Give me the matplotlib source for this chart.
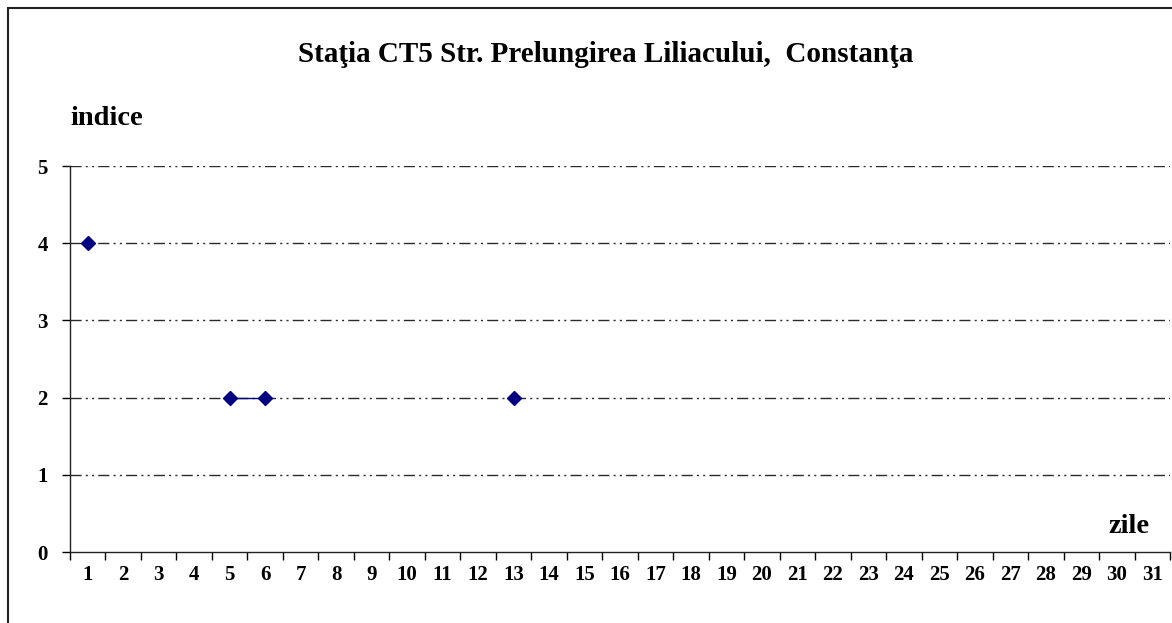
import numpy as np
import matplotlib.pyplot as plt
from matplotlib.patches import Rectangle

plt.rcParams['font.family'] = ['Liberation Serif', 'DejaVu Serif']
plt.rcParams['font.weight'] = 'bold'

zile = list(range(1, 32))
indice = [4, None, None, None, 2, 2, None, None, None, None, None, None, 2,
          None, None, None, None, None, None, None, None, None, None, None,
          None, None, None, None, None, None, None]
titlu = 'Staţia CT5 Str. Prelungirea Liliacului,  Constanţa'

y = np.array([np.nan if v is None else v for v in indice], dtype=float)

fig = plt.figure(figsize=(11.72, 6.23), dpi=100)
fig.patches.append(Rectangle((8 / 1172, -0.1), 1.2, 1.1 - 8 / 623,
                             transform=fig.transFigure, fill=False,
                             edgecolor='#222222', linewidth=1.5))
ax = fig.add_axes([70 / 1172, 1 - 552 / 623, 1100 / 1172, (552 - 166) / 623])

ax.plot(zile, y, color='#000080', linewidth=1, marker='D', markersize=7,
        markerfacecolor='#000080', markeredgecolor='#000080', zorder=3)

ax.set_xlim(0.5, 31.5)
ax.set_ylim(0, 5)
ax.set_xticks(zile)
ax.set_xticklabels([str(d) for d in zile])
ax.set_xticks(np.arange(0.5, 32, 1), minor=True)
ax.tick_params(axis='x', which='major', length=0, pad=9, labelsize=15)
ax.tick_params(axis='x', which='minor', length=6, width=1, direction='out')
ax.set_yticks(range(6))
ax.tick_params(axis='y', length=6, width=1, direction='out', pad=10, labelsize=15)

for v in range(1, 6):
    ax.axhline(v, color='#2a2a2a', linewidth=1, linestyle=(0, (8, 3, 1.5, 3, 1.5, 3)),
               zorder=1)

for s in ['top', 'right']:
    ax.spines[s].set_visible(False)
for s in ['left', 'bottom']:
    ax.spines[s].set_linewidth(1)
    ax.spines[s].set_color('#222222')

fig.text(606 / 1172, 1 - 62 / 623, titlu, ha='center', va='baseline', fontsize=21,
         fontweight='bold')
fig.text(70 / 1172, 1 - 125 / 623, 'indice', ha='left', va='baseline', fontsize=20.5,
         fontweight='bold')
fig.text(1150 / 1172, 1 - 533 / 623, 'zile', ha='right', va='baseline', fontsize=20.5,
         fontweight='bold')

fig.savefig('out.png', dpi=100)
